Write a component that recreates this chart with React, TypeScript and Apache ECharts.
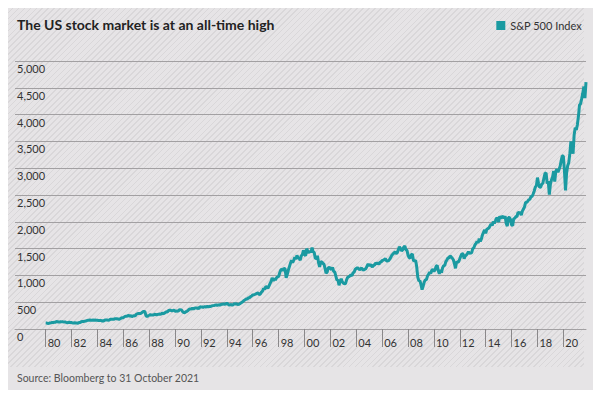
import React, { useEffect, useRef } from "react";
import * as echarts from "echarts";

// Monthly S&P 500 closes (index 0 = Jan of the first year)
const sp1980s = [
  114, 113, 102, 106, 111, 114, 122, 122, 125, 127, 141, 136,
  130, 131, 136, 133, 133, 131, 131, 123, 116, 122, 126, 123,
  120, 113, 112, 116, 112, 110, 107, 120, 120, 134, 139, 141,
  145, 148, 153, 164, 162, 168, 163, 164, 166, 164, 166, 165,
  163, 157, 159, 160, 151, 153, 151, 167, 166, 166, 164, 167,
  180, 181, 181, 180, 190, 192, 191, 188, 182, 190, 202, 211,
  212, 227, 239, 236, 247, 251, 236, 253, 231, 244, 249, 242,
  274, 284, 292, 288, 290, 304, 319, 330, 322, 252, 230, 247,
  257, 268, 259, 261, 262, 274, 272, 262, 272, 279, 274, 278,
  297, 289, 295, 310, 321, 318, 346, 351, 349, 340, 346, 353,
];
const sp1990s = [
  329, 332, 340, 331, 361, 358, 356, 323, 306, 304, 322, 330,
  344, 367, 375, 375, 390, 371, 388, 395, 388, 392, 375, 417,
  409, 413, 404, 415, 415, 408, 424, 414, 418, 419, 431, 436,
  439, 443, 452, 440, 450, 451, 448, 464, 459, 468, 462, 466,
  482, 467, 446, 451, 457, 444, 458, 475, 463, 472, 454, 459,
  470, 487, 501, 515, 533, 545, 562, 562, 584, 582, 605, 616,
  636, 640, 646, 654, 669, 671, 640, 652, 687, 705, 757, 741,
  786, 791, 757, 801, 848, 885, 954, 899, 947, 915, 955, 970,
  980, 1049, 1102, 1112, 1091, 1134, 1121, 957, 1017, 1099, 1164, 1229,
  1280, 1238, 1286, 1335, 1302, 1373, 1329, 1320, 1283, 1363, 1389, 1469,
];
const sp2000s = [
  1394, 1366, 1499, 1452, 1421, 1455, 1431, 1518, 1437, 1429, 1315, 1320,
  1366, 1240, 1160, 1249, 1256, 1224, 1211, 1134, 1041, 1060, 1139, 1148,
  1130, 1107, 1147, 1076, 1067, 990, 912, 916, 815, 886, 936, 880,
  856, 841, 848, 917, 964, 975, 990, 1008, 996, 1051, 1058, 1112,
  1131, 1145, 1126, 1107, 1121, 1141, 1102, 1104, 1115, 1130, 1174, 1212,
  1181, 1204, 1181, 1157, 1192, 1191, 1234, 1220, 1229, 1207, 1249, 1248,
  1280, 1281, 1295, 1311, 1270, 1270, 1277, 1304, 1336, 1378, 1401, 1418,
  1438, 1407, 1421, 1482, 1531, 1503, 1455, 1474, 1527, 1549, 1481, 1468,
  1379, 1331, 1323, 1386, 1400, 1280, 1267, 1283, 1165, 969, 896, 903,
  826, 735, 798, 873, 919, 919, 987, 1021, 1057, 1036, 1096, 1115,
];
const sp2010s = [
  1074, 1104, 1169, 1187, 1089, 1031, 1102, 1049, 1141, 1183, 1181, 1258,
  1286, 1327, 1326, 1364, 1345, 1321, 1292, 1219, 1131, 1253, 1247, 1258,
  1312, 1366, 1408, 1398, 1310, 1362, 1379, 1407, 1441, 1412, 1416, 1426,
  1498, 1515, 1569, 1598, 1631, 1606, 1686, 1633, 1682, 1757, 1806, 1848,
  1783, 1859, 1872, 1884, 1924, 1960, 1931, 2003, 1972, 2018, 2068, 2059,
  1995, 2105, 2068, 2086, 2107, 2063, 2104, 1972, 1920, 2079, 2080, 2044,
  1940, 1932, 2060, 2065, 2097, 2099, 2174, 2171, 2168, 2126, 2199, 2239,
  2279, 2364, 2363, 2384, 2412, 2423, 2470, 2472, 2519, 2575, 2648, 2674,
  2824, 2714, 2641, 2648, 2705, 2718, 2816, 2902, 2914, 2712, 2760, 2507,
  2704, 2784, 2834, 2946, 2752, 2942, 2980, 2926, 2977, 3038, 3141, 3231,
];
const sp2020s = [
  3226, 2954, 2585, 2912, 3044, 3100, 3271, 3500, 3363, 3270, 3622, 3756,
  3714, 3811, 3973, 4181, 4204, 4298, 4395, 4523, 4308, 4605,
];

const decades: [number, number[]][] = [
  [1980, sp1980s],
  [1990, sp1990s],
  [2000, sp2000s],
  [2010, sp2010s],
  [2020, sp2020s],
];

const xTickYears = [1980, 1982, 1984, 1986, 1988, 1990, 1992, 1994, 1996, 1998, 2000, 2002, 2004, 2006, 2008, 2010, 2012, 2014, 2016, 2018, 2020];

const TITLE = "The US stock market is at an all-time high";
const SERIES_NAME = "S&P 500 Index";
const SOURCE = "Source: Bloomberg to 31 October 2021";

const FONT = "Lato, 'Noto Sans', sans-serif";
const TEAL = "#1a9aa1";
const GRID = "#a2a0a2";

export default function App() {
  const ref = useRef<HTMLDivElement>(null);

  useEffect(() => {
    if (!ref.current) return;
    const chart = echarts.init(ref.current, undefined, { renderer: "svg" });

    const data: [number, number][] = [];
    decades.forEach(([start, vals]) => {
      vals.forEach((v, i) => data.push([start + i / 12, v]));
    });

    chart.setOption({
      animation: false,
      backgroundColor: "transparent",
      textStyle: { fontFamily: FONT },
      title: {
        text: TITLE,
        left: 12,
        top: 12,
        textStyle: { fontFamily: FONT, fontSize: 14, fontWeight: "bold", color: "#222" },
      },
      legend: {
        right: 15,
        top: 15,
        icon: "rect",
        itemWidth: 9,
        itemHeight: 9,
        itemGap: 6,
        textStyle: { fontFamily: FONT, fontSize: 11, color: "#333", padding: [0, 0, 0, 0] },
        data: [SERIES_NAME],
      },
      grid: { left: 15, right: 16, top: 61, bottom: 70, containLabel: false },
      xAxis: {
        type: "value",
        min: 1977.63,
        max: 2021.75,
        axisLine: { show: true, lineStyle: { color: GRID, width: 1 } },
        axisTick: {
          show: true,
          length: 18,
          customValues: xTickYears,
          lineStyle: { color: "#8a888a", width: 1 },
        },
        axisLabel: {
          customValues: xTickYears,
          align: "left",
          margin: 8,
          padding: [0, 0, 0, 2],
          fontFamily: FONT,
          fontSize: 11,
          color: "#333",
          formatter: (v: number) => String(Math.round(v) % 100).padStart(2, "0"),
        },
        splitLine: { show: false },
      },
      yAxis: {
        type: "value",
        min: 0,
        max: 5000,
        interval: 500,
        axisLine: { show: false },
        axisTick: { show: false },
        axisLabel: {
          inside: true,
          margin: 2,
          verticalAlign: "top",
          padding: [2, 0, 0, 0],
          fontFamily: FONT,
          fontSize: 11,
          color: "#333",
          formatter: (v: number) => v.toLocaleString("en-US"),
        },
        splitLine: { show: true, lineStyle: { color: GRID, width: 1 } },
      },
      graphic: [
        {
          type: "text",
          left: 17,
          top: 372,
          style: { text: SOURCE, fontFamily: FONT, fontSize: 10.5, fill: "#555" },
        },
      ],
      series: [
        {
          name: SERIES_NAME,
          type: "line",
          data,
          showSymbol: false,
          lineStyle: { color: TEAL, width: 3 },
          itemStyle: { color: TEAL },
          z: 5,
        },
      ],
    });

    return () => chart.dispose();
  }, []);

  return (
    <div style={{ position: "fixed", left: 0, top: 0, width: 602, height: 399, background: "#fff" }}>
      <div
        style={{
          position: "absolute",
          left: 8,
          top: 8,
          width: 585,
          height: 382,
          background: "#e6e4e6",
        }}
      />
      <div
        style={{
          position: "absolute",
          left: 8,
          top: 8,
          width: 576,
          height: 359,
          background:
            "repeating-linear-gradient(135deg, #e6e4e6 0px, #e6e4e6 3px, #d9d7d9 3px, #d9d7d9 4.2px)",
        }}
      />
      <div ref={ref} style={{ position: "absolute", left: 0, top: 0, width: 602, height: 399 }} />
    </div>
  );
}
